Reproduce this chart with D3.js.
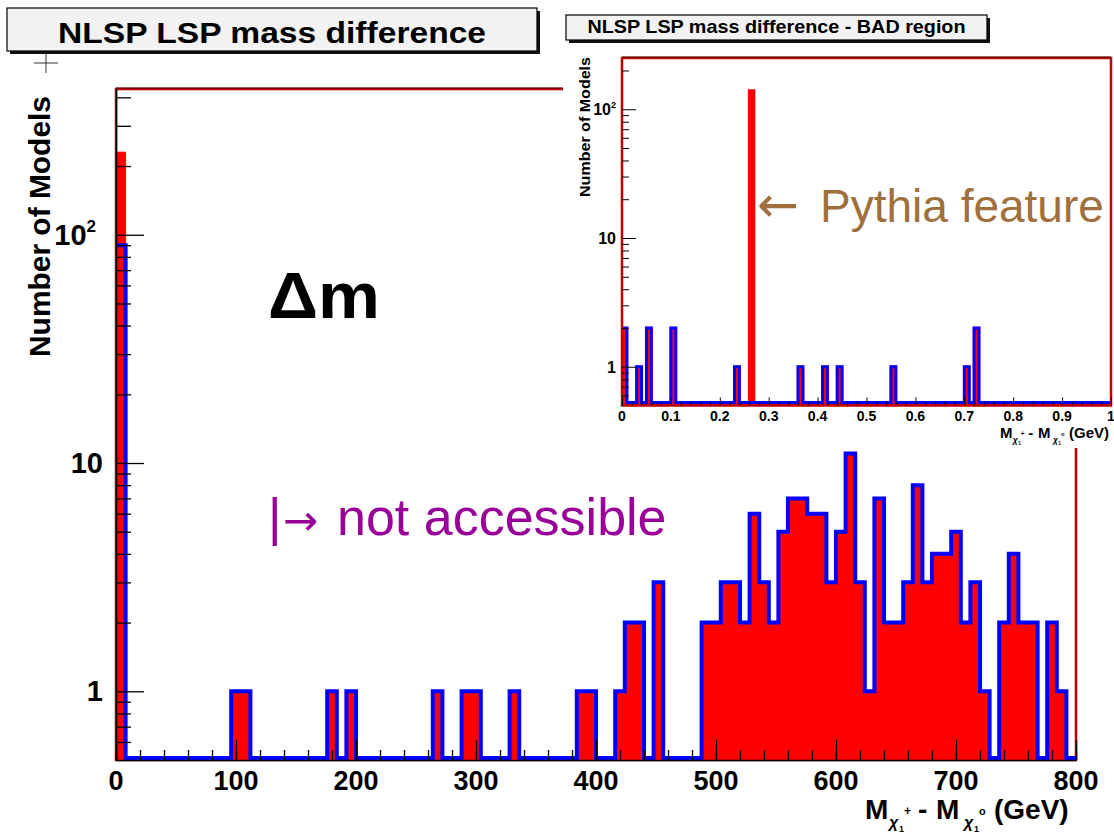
<!DOCTYPE html>
<html><head><meta charset="utf-8">
<script src="https://cdn.jsdelivr.net/npm/d3@7"></script>
<style>
body{margin:0;background:#fff;}
svg{display:block;font-family:"Liberation Sans",Arial,Helvetica,sans-serif;}
</style></head><body>
<svg id="c" width="1114" height="833"></svg>
<script>
// ---------------- data ----------------
// main histogram: 100 bins of 8 GeV from 0 to 800 GeV
const mainBinWidth = 8;
const mainAll = [
  230,0,0,0,0,0,0,0,0,0,
  0,0,1,1,0,0,0,0,0,0,
  0,0,1,0,1,0,0,0,0,0,
  0,0,0,1,0,0,1,1,0,0,
  0,1,0,0,0,0,0,0,1,1,
  0,0,1,2,2,0,3,0,0,0,
  0,2,2,3,3,2,6,3,2,5,
  7,7,6,6,3,5,11,3,1,7,
  2,2,3,8,3,4,4,5,2,3,
  1,0,2,4,2,2,0,2,1,0
];
const mainSel = [
  90,0,0,0,0,0,0,0,0,0,
  0,0,1,1,0,0,0,0,0,0,
  0,0,1,0,1,0,0,0,0,0,
  0,0,0,1,0,0,1,1,0,0,
  0,1,0,0,0,0,0,0,1,1,
  0,0,1,2,2,0,3,0,0,0,
  0,2,2,3,3,2,6,3,2,5,
  7,7,6,6,3,5,11,3,1,7,
  2,2,3,8,3,4,4,5,2,3,
  1,0,2,4,2,2,0,2,1,0
];
const mainXTicks = [0,100,200,300,400,500,600,700,800];
const mainXLabels = ["0","100","200","300","400","500","600","700","800"];
const mainYTicks = [1,10,100];
const mainYMinor = [0.6,0.7,0.8,0.9,2,3,4,5,6,7,8,9,20,30,40,50,60,70,80,90,200,300,400];

// inset histogram: 100 bins of 0.01 GeV from 0 to 1 GeV
const insetBinWidth = 0.01;
const insetAll = [
  2,0,0,1,0,2,0,0,0,0,
  2,0,0,0,0,0,0,0,0,0,
  0,0,0,1,0,0,140,0,0,0,
  0,0,0,0,0,0,1,0,0,0,
  0,1,0,0,1,0,0,0,0,0,
  0,0,0,0,0,1,0,0,0,0,
  0,0,0,0,0,0,0,0,0,0,
  1,0,2,0,0,0,0,0,0,0,
  0,0,0,0,0,0,0,0,0,0,
  0,0,0,0,0,0,0,0,0,0
];
const insetSel = [
  2,0,0,1,0,2,0,0,0,0,
  2,0,0,0,0,0,0,0,0,0,
  0,0,0,1,0,0,0,0,0,0,
  0,0,0,0,0,0,1,0,0,0,
  0,1,0,0,1,0,0,0,0,0,
  0,0,0,0,0,1,0,0,0,0,
  0,0,0,0,0,0,0,0,0,0,
  1,0,2,0,0,0,0,0,0,0,
  0,0,0,0,0,0,0,0,0,0,
  0,0,0,0,0,0,0,0,0,0
];
const insetXTicks = [0,0.1,0.2,0.3,0.4,0.5,0.6,0.7,0.8,0.9,1];
const insetXLabels = ["0","0.1","0.2","0.3","0.4","0.5","0.6","0.7","0.8","0.9","1"];
const insetXMinor = [0.02,0.04,0.06,0.08,0.12,0.14,0.16,0.18,0.22,0.24,0.26,0.28,0.32,0.34,0.36,0.38,0.42,0.44,0.46,0.48,0.52,0.54,0.56,0.58,0.62,0.64,0.66,0.68,0.72,0.74,0.76,0.78,0.82,0.84,0.86,0.88,0.92,0.94,0.96,0.98];
const insetYTicks = [1,10,100];
const insetYMinor = [0.6,0.7,0.8,0.9,2,3,4,5,6,7,8,9,20,30,40,50,60,70,80,90,200];

const RED = "#ff0000", BLUE = "#0000ff", FRAME = "#c00000";
const ARROWFONT = "'DejaVu Sans',sans-serif";

// ---------------- helpers ----------------
const svg = d3.select("#c");
svg.append("rect").attr("width",1114).attr("height",833).attr("fill","#fff");

function stepPath(vals, w, x, y, base, closed) {
  const pts = [];
  vals.forEach((v, i) => {
    const yy = v > 0 ? y(v) : base;
    pts.push([x(i * w), yy], [x((i + 1) * w), yy]);
  });
  if (closed) { pts.unshift([x(0), base]); pts.push([x(vals.length * w), base]); }
  return d3.line()(pts) + (closed ? "Z" : "");
}

function titleBox(x, y, w, h, txt, fs, tl, base) {
  const g = svg.append("g");
  g.append("rect").attr("x", x + 3).attr("y", y + 3).attr("width", w).attr("height", h).attr("fill", "#111");
  g.append("rect").attr("x", x).attr("y", y).attr("width", w).attr("height", h)
    .attr("fill", "#f2f2f2").attr("stroke", "#000").attr("stroke-width", 1.2);
  g.append("text").attr("x", x + w / 2).attr("y", base).attr("text-anchor", "middle")
    .attr("font-size", fs).attr("font-weight", "bold").attr("textLength", tl)
    .attr("lengthAdjust", "spacingAndGlyphs").text(txt);
}

// x-axis title M_{chi1+} - M_{chi1o} (GeV), one text element with positioned tspans
function massTitle(x0, base, s) {
  const t = svg.append("text").attr("font-weight", "bold").attr("font-size", 28 * s);
  const p = (txt, dx, dy, fs, italic) => {
    const ts = t.append("tspan").attr("x", x0 + dx * s).attr("y", base + dy * s).attr("font-size", fs * s).text(txt);
    if (italic) ts.attr("font-style", "italic");
  };
  p("M", 0, 0, 28);
  p("χ", 24, 9, 16, true);
  p("+", 39, -4, 12);
  p("1", 34, 13, 9);
  p("-", 53, 0, 28);
  p("M", 71, 0, 28);
  p("χ", 99, 9, 16, true);
  p("o", 114, -4, 11);
  p("1", 109, 13, 9);
  p("(GeV)", 129, 0, 28);
  return t;
}

// ---------------- main chart ----------------
const M = {x0: 116, x1: 1076, y0: 89, y1: 760};
const xMain = d3.scaleLinear().domain([0, 800]).range([M.x0, M.x1]);
const yMain = d3.scaleLog().domain([0.5, 435]).range([M.y1, M.y0]);

svg.append("clipPath").attr("id", "clipMain").append("rect")
  .attr("x", M.x0).attr("y", M.y0).attr("width", M.x1 - M.x0).attr("height", M.y1 - M.y0);

const gMain = svg.append("g");
gMain.append("rect").attr("x", M.x0).attr("y", M.y0).attr("width", M.x1 - M.x0).attr("height", M.y1 - M.y0)
  .attr("fill", "none").attr("stroke", FRAME).attr("stroke-width", 2.5);
gMain.append("line").attr("x1", M.x0).attr("x2", M.x1).attr("y1", M.y0 - 1).attr("y2", M.y0 - 1)
  .attr("stroke", "#400").attr("stroke-width", 1);

const hMain = gMain.append("g").attr("clip-path", "url(#clipMain)");
hMain.append("path").attr("d", stepPath(mainAll, mainBinWidth, xMain, yMain, M.y1, true))
  .attr("fill", RED).attr("stroke", RED).attr("stroke-width", 1);
hMain.append("path").attr("d", stepPath(mainSel, mainBinWidth, xMain, yMain, M.y1 - 2, false))
  .attr("fill", "none").attr("stroke", BLUE).attr("stroke-width", 4).attr("stroke-linejoin", "miter");

// axes (ticks inside, ROOT style)
gMain.append("g").attr("transform", `translate(${M.x0},0)`)
  .call(d3.axisRight(yMain).tickValues(mainYTicks).tickSize(28).tickSizeOuter(0).tickFormat(""));
gMain.append("g").attr("transform", `translate(${M.x0},0)`)
  .call(d3.axisRight(yMain).tickValues(mainYMinor).tickSize(15).tickSizeOuter(0).tickFormat(""))
  .select(".domain").remove();
gMain.append("g").attr("transform", `translate(0,${M.y1})`)
  .call(d3.axisTop(xMain).tickValues(mainXTicks).tickSize(20).tickSizeOuter(0).tickFormat(""));
gMain.append("g").attr("transform", `translate(0,${M.y1})`)
  .call(d3.axisTop(xMain).tickValues(d3.range(0, 801, 20)).tickSize(10).tickSizeOuter(0).tickFormat(""))
  .select(".domain").remove();
gMain.selectAll(".domain").attr("stroke", "#000").attr("stroke-width", 1.5);
gMain.selectAll(".tick line").attr("stroke", "#000").attr("stroke-width", 1.3);

// tick labels
gMain.selectAll("text.xl").data(mainXTicks).join("text").attr("class", "xl")
  .attr("x", d => xMain(d)).attr("y", 790).attr("text-anchor", "middle")
  .attr("font-size", 27).attr("font-weight", "bold").text((d, i) => mainXLabels[i]);
mainYTicks.forEach(v => {
  const t = gMain.append("text").attr("x", 103).attr("y", yMain(v) + 10).attr("text-anchor", "end")
    .attr("font-size", 29).attr("font-weight", "bold");
  if (v === 100) {
    t.attr("x", 96);
    t.append("tspan").text("10");
    t.append("tspan").attr("font-size", 17).attr("dy", -13).text("2");
  } else t.text(String(v));
});

// axis titles
svg.append("text").attr("transform", "translate(50,96) rotate(-90)").attr("text-anchor", "end")
  .attr("font-size", 30).attr("font-weight", "bold").attr("textLength", 261)
  .attr("lengthAdjust", "spacingAndGlyphs").text("Number of Models");
massTitle(865, 819, 1);

// cross marker
svg.append("path").attr("d", "M34,63H58M46,53V73").attr("stroke", "#333").attr("stroke-width", 1);

// title
titleBox(7, 8, 530, 43, "NLSP LSP mass difference", 30, 428, 43);

// annotations
svg.append("text").attr("x", 268).attr("y", 318).attr("font-size", 64).attr("font-weight", "bold")
  .attr("textLength", 112).attr("lengthAdjust", "spacingAndGlyphs").text("Δm");
const na = svg.append("text").attr("y", 535).attr("font-size", 52).attr("fill", "#990099");
na.append("tspan").attr("x", 268).text("|");
na.append("tspan").attr("x", 283).attr("font-family", ARROWFONT).attr("font-size", 42).text("→");
na.append("tspan").attr("x", 337).text("not accessible");

// ---------------- inset ----------------
svg.append("rect").attr("x", 563).attr("y", 0).attr("width", 551).attr("height", 448).attr("fill", "#fff");

const I = {x0: 622, x1: 1111, y0: 58, y1: 405.5};
const xIn = d3.scaleLinear().domain([0, 1]).range([I.x0, I.x1]);
const yIn = d3.scaleLog().domain([0.5, 250]).range([I.y1, I.y0]);

svg.append("clipPath").attr("id", "clipIn").append("rect")
  .attr("x", I.x0).attr("y", I.y0).attr("width", I.x1 - I.x0).attr("height", I.y1 - I.y0);

const gIn = svg.append("g");
const hIn = gIn.append("g").attr("clip-path", "url(#clipIn)");
hIn.append("path").attr("d", stepPath(insetAll, insetBinWidth, xIn, yIn, I.y1 - 1, true))
  .attr("fill", RED).attr("stroke", RED).attr("stroke-width", 2.5);
hIn.append("path").attr("d", stepPath(insetSel, insetBinWidth, xIn, yIn, I.y1 - 3, false))
  .attr("fill", "none").attr("stroke", BLUE).attr("stroke-width", 3);

gIn.append("rect").attr("x", I.x0).attr("y", I.y0).attr("width", I.x1 - I.x0).attr("height", I.y1 - I.y0)
  .attr("fill", "none").attr("stroke", FRAME).attr("stroke-width", 2.5);
gIn.append("line").attr("x1", I.x0).attr("x2", I.x1).attr("y1", I.y0 - 1).attr("y2", I.y0 - 1)
  .attr("stroke", "#400").attr("stroke-width", 1);

gIn.append("g").attr("transform", `translate(${I.x0},0)`)
  .call(d3.axisRight(yIn).tickValues(insetYTicks).tickSize(14).tickSizeOuter(0).tickFormat(""))
  .select(".domain").remove();
gIn.append("g").attr("transform", `translate(${I.x0},0)`)
  .call(d3.axisRight(yIn).tickValues(insetYMinor).tickSize(7).tickSizeOuter(0).tickFormat(""))
  .select(".domain").remove();
gIn.append("g").attr("transform", `translate(0,${I.y1})`)
  .call(d3.axisTop(xIn).tickValues(insetXTicks).tickSize(8).tickSizeOuter(0).tickFormat(""))
  .select(".domain").remove();
gIn.append("g").attr("transform", `translate(0,${I.y1})`)
  .call(d3.axisTop(xIn).tickValues(insetXMinor).tickSize(4).tickSizeOuter(0).tickFormat(""))
  .select(".domain").remove();
gIn.selectAll(".tick line").attr("stroke", "#000").attr("stroke-width", 1);

gIn.selectAll("text.ixl").data(insetXTicks).join("text").attr("class", "ixl")
  .attr("x", d => xIn(d)).attr("y", 421).attr("text-anchor", "middle")
  .attr("font-size", 14).attr("font-weight", "bold").text((d, i) => insetXLabels[i]);
insetYTicks.forEach(v => {
  const t = gIn.append("text").attr("x", 616).attr("y", yIn(v) + 6).attr("text-anchor", "end")
    .attr("font-size", 16).attr("font-weight", "bold");
  if (v === 100) {
    t.append("tspan").text("10");
    t.append("tspan").attr("font-size", 9).attr("dy", -7).text("2");
  } else t.text(String(v));
});

svg.append("text").attr("transform", "translate(590,57) rotate(-90)").attr("text-anchor", "end")
  .attr("font-size", 15).attr("font-weight", "bold").attr("textLength", 140)
  .attr("lengthAdjust", "spacingAndGlyphs").text("Number of Models");

massTitle(1000, 438, 0.535);

titleBox(566, 15, 421, 25, "NLSP LSP mass difference - BAD region", 19, 378, 33);

const py = svg.append("text").attr("y", 222).attr("font-size", 46).attr("fill", "#a0703c");
py.append("tspan").attr("x", 757).attr("font-family", ARROWFONT).attr("font-size", 50).text("←");
py.append("tspan").attr("x", 820).text("Pythia feature");
</script>
</body></html>
